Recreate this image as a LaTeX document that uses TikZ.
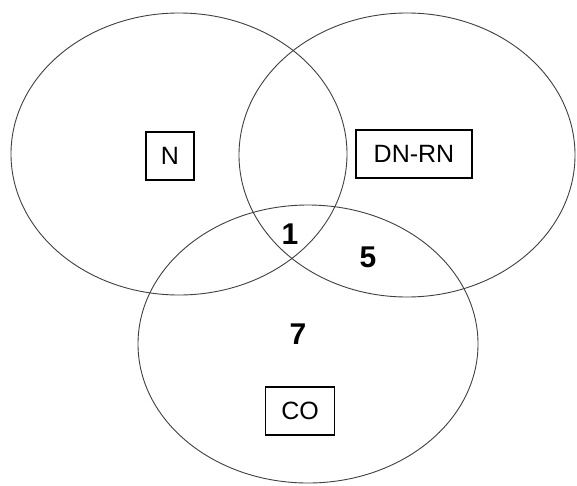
\documentclass[tikz,border=0pt]{standalone}
\usepackage{fontspec}
\setmainfont{Liberation Sans}
\begin{document}
\begin{tikzpicture}[x=1pt,y=-1pt,
    setbox/.style={draw=black,line width=1.6pt,inner sep=0pt,minimum height=48pt,
        font=\fontsize{25}{27}\selectfont},
    count/.style={font=\bfseries\fontsize{30}{32}\selectfont}]
        \useasboundingbox[fill=white] (0,0) rectangle (577,485);
        \foreach \cx/\cy/\rx/\ry in {179/154/168/141, 407/155/168/142, 308/344/170/139} {
            \draw[black!75,line width=0.9pt] (\cx,\cy) ellipse ({\rx pt} and {\ry pt});
        }
        \node[setbox,minimum width=48pt] (n) at (170,156) {N};
        \node[setbox,minimum width=116pt] (dnrn) at (414,154) {DN-RN};
        \node[setbox,minimum width=69pt] (co) at (300,411) {CO};
        \node[count] (one) at (290,234) {1};
        \node[count] (five) at (368,257) {5};
        \node[count] (seven) at (298,334) {7};
\end{tikzpicture}
\end{document}
